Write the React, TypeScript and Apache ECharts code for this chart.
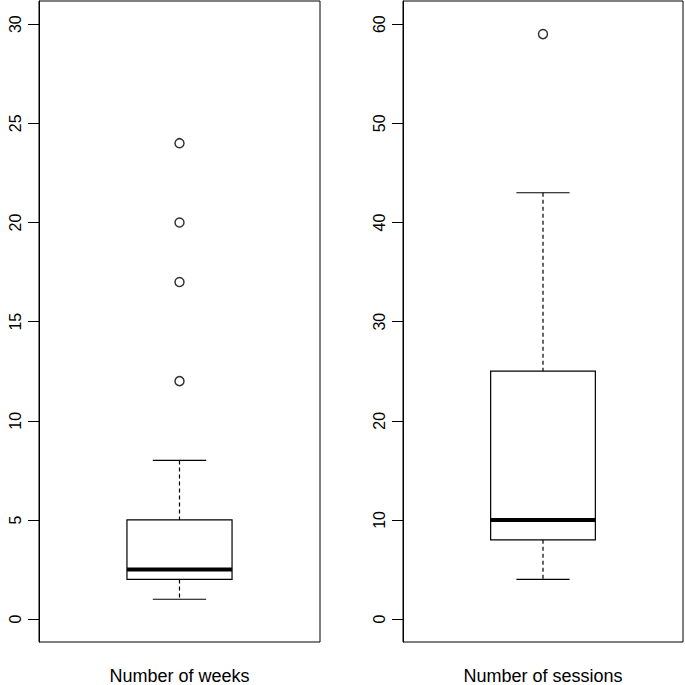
import React, { useEffect, useRef } from "react";
import * as echarts from "echarts";

const categories = ["Number of weeks", "Number of sessions"];
// [lower whisker, Q1, median, Q3, upper whisker]
const weeksStats = [1, 2, 2.5, 5, 8];
const weeksOutliers = [12, 17, 20, 24];
const sessionsStats = [4, 8, 10, 25, 43];
const sessionsOutliers = [59];
const weeksTicks = [0, 5, 10, 15, 20, 25, 30];
const sessionsTicks = [0, 10, 20, 30, 40, 50, 60];

const FONT = "Liberation Sans, Arial, Helvetica, sans-serif";

function renderBox(params: any, api: any) {
  const x = api.value(0);
  const lo = api.coord([x, api.value(1)]);
  const q1 = api.coord([x, api.value(2)]);
  const med = api.coord([x, api.value(3)]);
  const q3 = api.coord([x, api.value(4)]);
  const hi = api.coord([x, api.value(5)]);
  const band = api.size([1, 0])[0];
  const bw = band * 0.374;
  const cw = band * 0.19;
  const cx = lo[0];
  const stroke = { stroke: "#000", lineWidth: 1.2, fill: "none" };
  const dashed = { stroke: "#000", lineWidth: 1.2, lineDash: [4, 3] };
  return {
    type: "group",
    children: [
      { type: "line", shape: { x1: cx, y1: hi[1], x2: cx, y2: q3[1] }, style: dashed },
      { type: "line", shape: { x1: cx, y1: q1[1], x2: cx, y2: lo[1] }, style: dashed },
      { type: "line", shape: { x1: cx - cw / 2, y1: hi[1], x2: cx + cw / 2, y2: hi[1] }, style: stroke },
      { type: "line", shape: { x1: cx - cw / 2, y1: lo[1], x2: cx + cw / 2, y2: lo[1] }, style: stroke },
      {
        type: "rect",
        shape: { x: cx - bw / 2, y: q3[1], width: bw, height: q1[1] - q3[1] },
        style: { stroke: "#000", lineWidth: 1.2, fill: "#fff" },
      },
      {
        type: "line",
        shape: { x1: cx - bw / 2, y1: med[1], x2: cx + bw / 2, y2: med[1] },
        style: { stroke: "#000", lineWidth: 4 },
      },
    ],
  };
}

export default function App() {
  const ref = useRef<HTMLDivElement>(null);
  useEffect(() => {
    if (!ref.current) return;
    const chart = echarts.init(ref.current, null, { renderer: "svg" });
    const yAxisCommon = (ticks: number[]) => ({
      type: "value",
      axisLine: { show: true, lineStyle: { color: "#000", width: 1 } },
      axisTick: { show: true, length: 11, inside: false, customValues: ticks, lineStyle: { color: "#000" } },
      axisLabel: {
        customValues: ticks,
        rotate: 90,
        margin: 16,
        fontSize: 16,
        color: "#000",
        fontFamily: FONT,
      },
      splitLine: { show: false },
    });
    const xAxisCommon = (i: number) => ({
      type: "category",
      gridIndex: i,
      data: [categories[i]],
      axisLine: { show: false },
      axisTick: { show: false },
      axisLabel: { margin: 25, fontSize: 18, color: "#000", fontFamily: FONT },
      splitLine: { show: false },
    });
    const outlierSeries = (i: number, vals: number[]) => ({
      type: "scatter",
      xAxisIndex: i,
      yAxisIndex: i,
      symbol: "circle",
      symbolSize: 9,
      itemStyle: { color: "#fff", borderColor: "#000", borderWidth: 1.5 },
      data: vals.map((v) => [0, v]),
      z: 5,
    });
    chart.setOption({
      animation: false,
      backgroundColor: "#fff",
      grid: [
        { left: 39, right: 365, top: 1, bottom: 41, show: true, borderColor: "#000", borderWidth: 1, backgroundColor: "transparent" },
        { left: 403, right: 2, top: 1, bottom: 41, show: true, borderColor: "#000", borderWidth: 1, backgroundColor: "transparent" },
      ],
      xAxis: [xAxisCommon(0), xAxisCommon(1)],
      yAxis: [
        { ...yAxisCommon(weeksTicks), gridIndex: 0, min: -1.156, max: 31.17 },
        { ...yAxisCommon(sessionsTicks), gridIndex: 1, min: -2.31, max: 62.34 },
      ],
      series: [
        {
          type: "custom",
          xAxisIndex: 0,
          yAxisIndex: 0,
          renderItem: renderBox,
          data: [[0, ...weeksStats]],
          encode: { x: 0, y: [1, 2, 3, 4, 5] },
        },
        {
          type: "custom",
          xAxisIndex: 1,
          yAxisIndex: 1,
          renderItem: renderBox,
          data: [[0, ...sessionsStats]],
          encode: { x: 0, y: [1, 2, 3, 4, 5] },
        },
        outlierSeries(0, weeksOutliers),
        outlierSeries(1, sessionsOutliers),
      ],
    });
    return () => chart.dispose();
  }, []);
  return <div ref={ref} style={{ width: 685, height: 685, position: "absolute", left: 0, top: 0 }} />;
}
